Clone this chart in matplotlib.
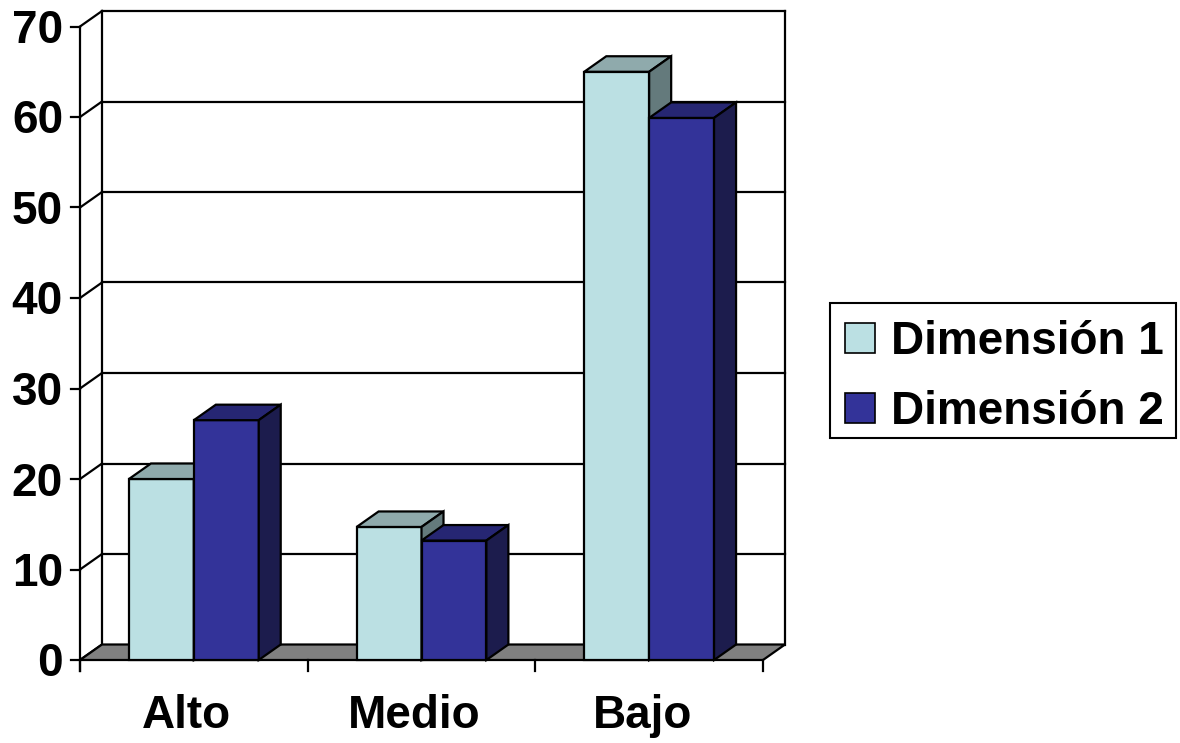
import matplotlib.pyplot as plt
from matplotlib.patches import Polygon, Patch, Rectangle

categories = ["Alto", "Medio", "Bajo"]
series = ["Dimensión 1", "Dimensión 2"]
dim1 = [20.0, 14.7, 65.0]
dim2 = [26.5, 13.2, 59.9]
yticks = [0, 10, 20, 30, 40, 50, 60, 70]

# front / top / side shades per series
colors = [("#BBE0E3", "#8FAAAC", "#647A7C"),
          ("#333399", "#262673", "#1C1C4D")]
floor_color = "#808080"

W, H = 1180, 743
PXX = 227.67   # pixels per category
PXY = 9.05     # pixels per value unit
X0, Y0 = 80, 660  # pixel position of data origin

fig = plt.figure(figsize=(W / 100, H / 100), dpi=100)
ax = fig.add_axes([0, 0, 1, 1])
ax.set_xlim(-X0 / PXX, (W - X0) / PXX)
ax.set_ylim(-(H - Y0) / PXY, Y0 / PXY)
ax.axis("off")

dx = 22 / PXX
dy = 15.5 / PXY
ymax = yticks[-1]
ncat = len(categories)
lw = 1.6
font = "Liberation Sans"

# back wall and left wall
for v in yticks[1:]:
    ax.plot([dx, ncat + dx], [v + dy, v + dy], color="black", lw=lw, zorder=1)
for v in yticks:
    ax.plot([0, dx], [v, v + dy], color="black", lw=lw, zorder=1)
ax.plot([dx, dx], [dy, ymax + dy], color="black", lw=lw, zorder=1)
ax.plot([ncat + dx, ncat + dx], [dy, ymax + dy], color="black", lw=lw, zorder=1)

# floor
ax.add_patch(Polygon([(0, 0), (ncat, 0), (ncat + dx, dy), (dx, dy)],
                     closed=True, facecolor=floor_color, edgecolor="black",
                     lw=lw, zorder=2))

# bars
w = 0.285
start = 0.215
for i in range(ncat):
    for s, vals in enumerate([dim1, dim2]):
        v = vals[i]
        fc, tc, sc = colors[s]
        x0 = i + start + s * w
        ax.add_patch(Polygon([(x0, 0), (x0 + w, 0), (x0 + w, v), (x0, v)],
                             closed=True, facecolor=fc, edgecolor="black",
                             lw=lw, zorder=3 + i * 2 + s))
        ax.add_patch(Polygon([(x0, v), (x0 + w, v), (x0 + w + dx, v + dy),
                              (x0 + dx, v + dy)], closed=True, facecolor=tc,
                             edgecolor="black", lw=lw, zorder=3 + i * 2 + s))
        ax.add_patch(Polygon([(x0 + w, 0), (x0 + w + dx, dy),
                              (x0 + w + dx, v + dy), (x0 + w, v)],
                             closed=True, facecolor=sc, edgecolor="black",
                             lw=lw, zorder=3 + i * 2 + s))

# front axes and ticks
ax.plot([0, 0], [-11 / PXY, ymax], color="black", lw=lw, zorder=20)
for v in yticks:
    ax.plot([-9 / PXX, 0], [v, v], color="black", lw=lw, zorder=20)
    ax.text(-17 / PXX, v - 16.5 / PXY, str(v), ha="right", va="baseline",
            fontsize=33, fontweight="bold", family=font)
for i in range(ncat + 1):
    ax.plot([i, i], [0, -11 / PXY], color="black", lw=lw, zorder=20)
for i, c in enumerate(categories):
    ax.text(i + 0.5 - 7 / PXX, -68 / PXY, c, ha="center", va="baseline",
            fontsize=33, fontweight="bold", family=font)

# legend: entries without frame, box drawn separately
handles = [Patch(facecolor=colors[s][0], edgecolor="black", lw=1.2)
           for s in range(len(series))]
leg = ax.legend(handles, series, loc="upper left",
                bbox_to_anchor=(845 / W, 1 - 320 / H),
                bbox_transform=fig.transFigure, borderaxespad=0,
                prop={"family": font, "weight": "bold", "size": 33},
                handlelength=0.65, handleheight=0.65, handletextpad=0.36,
                labelspacing=0.57, borderpad=0, frameon=False)
fig.patches.append(Rectangle((830 / W, 1 - 438 / H), 346 / W, 135 / H,
                             transform=fig.transFigure, fill=False,
                             edgecolor="black", lw=1.5))

fig.savefig("out.png", dpi=100)
